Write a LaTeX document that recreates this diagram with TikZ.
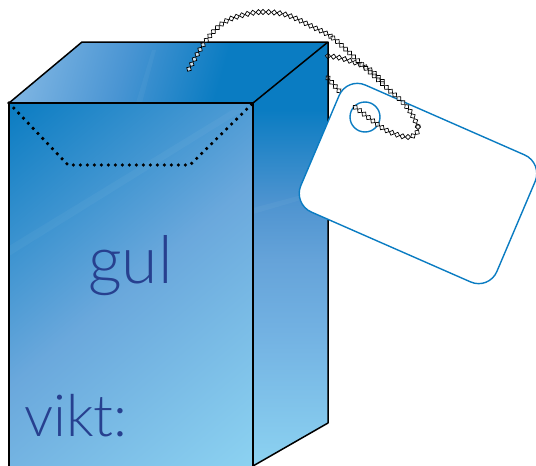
\documentclass[tikz,border=0pt]{standalone}
\usepackage{fontspec}
\setmainfont{Lato Light}
\usetikzlibrary{decorations.markings}
\definecolor{boxdark}{HTML}{0A7CC2}
\definecolor{boxmid}{HTML}{6AA8DC}
\definecolor{boxlight}{HTML}{8CD2F1}
\definecolor{topl}{HTML}{80B6E3}
\definecolor{topm}{HTML}{4A95D3}
\definecolor{sidea}{HTML}{4F94D0}
\definecolor{sidem}{HTML}{65A3D9}
\definecolor{sidel}{HTML}{72B1E2}
\definecolor{ink}{HTML}{27408F}
\definecolor{tagblue}{HTML}{0A7CC2}
\pgfdeclareverticalshading{topface}{100bp}{color(0bp)=(boxdark);color(41.9bp)=(boxdark);color(57bp)=(topm);color(72.6bp)=(topl);color(100bp)=(topl)}
\pgfdeclareverticalshading{sideface}{100bp}{color(0bp)=(boxlight);color(25bp)=(boxlight);color(41bp)=(sidel);color(49.3bp)=(sidem);color(55.9bp)=(sidea);color(67bp)=(boxdark);color(100bp)=(boxdark)}
\tikzset{
  edge/.style={draw=black,line width=1.5pt,line join=round},
  dots/.style={draw=black,line width=3.6pt,line cap=round,dash pattern=on 0pt off 7pt},
  streak/.style={fill=white,opacity=.04},
  tagline/.style={draw=tagblue,line width=1.4pt},
  label/.style={text=ink,inner sep=0pt,anchor=base west},
  chain/.style={postaction={decorate},decoration={markings,
    mark=between positions 0pt and -0.1pt step 5.6pt with {
      \draw[black,line width=.7pt,fill=white,fill opacity=.75] (-2.6pt,0pt)--(0pt,2.6pt)--(2.6pt,0pt)--(0pt,-2.6pt)--cycle;}}}
}
\begin{document}
\begin{tikzpicture}[x=1pt,y=-1pt]
\useasboundingbox (0,0) rectangle (536,466);
% faces
\begin{scope}
\clip (9,103)--(253,103)--(253,466)--(9,466)--cycle;
\shade[top color=boxdark,bottom color=boxlight,middle color=boxmid,shading angle=40]
  (-87,66.5) rectangle (349,502.5);
\end{scope}
\begin{scope}
\clip (9,103)--(82,42)--(328,42)--(253,103)--cycle;
\shade[shading=topface,shading angle=74] (8.5,-87.5) rectangle (328.5,232.5);
\end{scope}
\shade[shading=sideface]
  (253,103)--(328,42)--(328,423)--(253,466)--cycle;
% streaks
\fill[streak] (9,246)--(232,110)--(244,110)--(9,256)--cycle;
\fill[streak] (152,50)--(136,103)--(142,103)--(156,50)--cycle;
\fill[streak] (253,208)--(328,188)--(328,192)--(253,214)--cycle;
% strands behind the tag
\path[chain] (328,56) .. controls (337,57) and (342,58) .. (347,60) .. controls (354,62) and (360,64) .. (367,68) .. controls (373,71) and (378,77) .. (383,82);
\path[chain] (328,78) -- (340,92);
% outlines
\draw[edge] (9,466)--(9,103)--(253,103)--(253,466);
\draw[edge] (9,103)--(82,42)--(328,42)--(253,103);
\draw[edge] (328,42)--(328,423)--(253,466);
\draw[dots] (9,103)--(68,165)--(190,165)--(253,103);
% tag
\draw[tagline,fill=white,rounded corners=20pt] (347,77)--(543,163)--(489,290)--(293,204)--cycle;
\draw[tagline] (365,117) circle (15);
% string
\path[chain] (189,69) .. controls (191.7,64.5) and (199.3,49.7) .. (205,42)
 .. controls (210.7,34.3) and (216.7,27.5) .. (223,23)
 .. controls (229.3,18.5) and (236.3,16.8) .. (243,15)
 .. controls (249.7,13.2) and (255.7,12) .. (263,12);
\path[chain] (263,12)
 .. controls (270.3,12) and (278.7,12.5) .. (287,15)
 .. controls (295.3,17.5) and (305.3,23.2) .. (313,27)
 .. controls (320.7,30.8) and (325.7,32.5) .. (333,38);
\path[chain] (333,38)
 .. controls (340.3,43.5) and (348,51.7) .. (357,60)
 .. controls (366,68.3) and (378.7,80.2) .. (387,88)
 .. controls (395.3,95.8) and (401.8,100.5) .. (407,107)
 .. controls (412.2,113.5) and (416.3,122.7) .. (418,127);
\path[chain] (418,127) -- (418,131) -- (416,134) -- (412,136.5) -- (408,137);
\path[chain] (408,137)
 .. controls (403.5,137.2) and (395.2,134.2) .. (390,132)
 .. controls (384.8,129.8) and (382.8,128.2) .. (377,124)
 .. controls (371.2,119.8) and (362.3,112.7) .. (355,107);
% labels
\node[label,font=\fontsize{66}{66}\selectfont] (gul) at (88,283) {gul};
\node[label,font=\fontsize{58}{58}\selectfont] (vikt) at (24,436) {vikt:};
\end{tikzpicture}
\end{document}
